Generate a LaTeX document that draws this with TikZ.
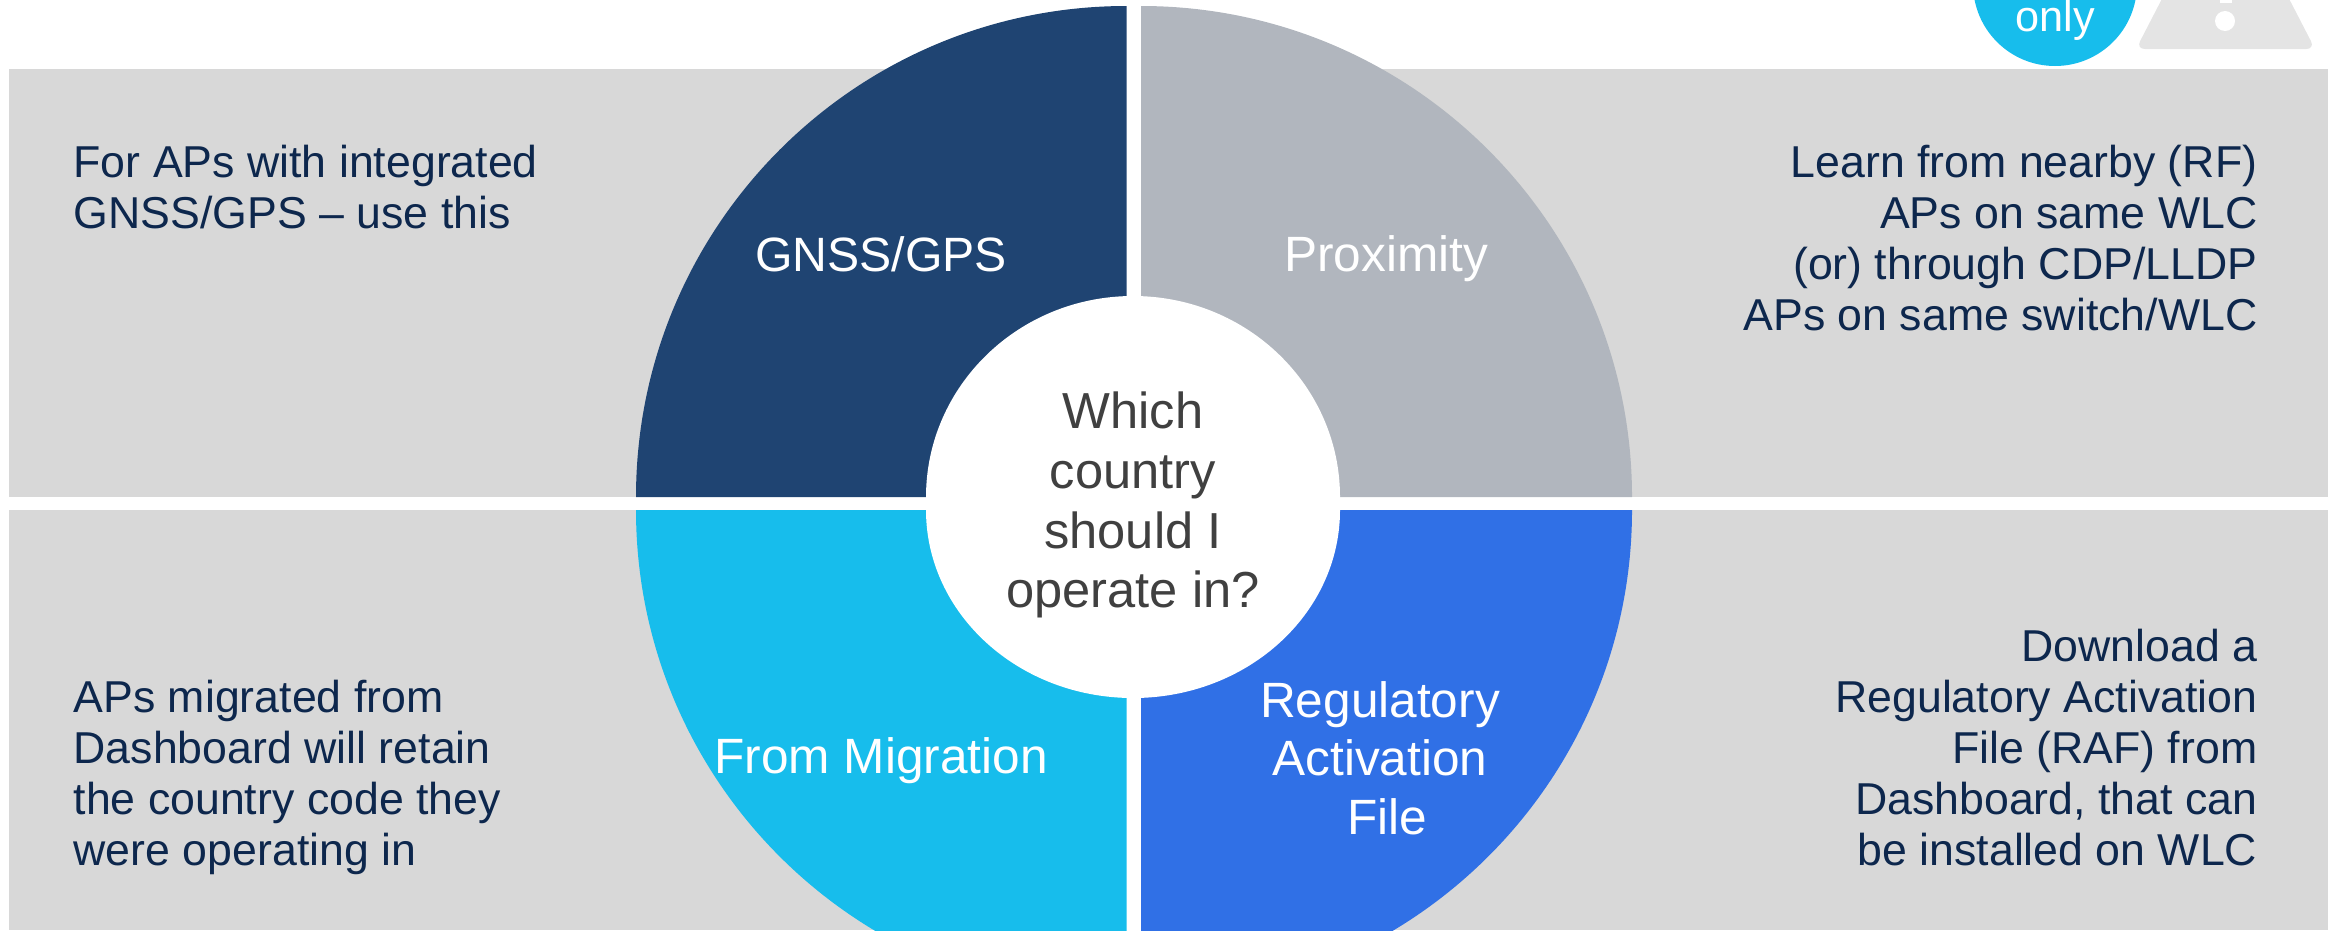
\documentclass[tikz,border=0pt]{standalone}
\usepackage{fontspec}
\setmainfont{Liberation Sans}
\usepackage{tikz}
\definecolor{bandgray}{HTML}{D8D8D8}
\definecolor{navyq}{HTML}{1F4472}
\definecolor{grayq}{HTML}{B1B6BE}
\definecolor{cyanq}{HTML}{17BDEC}
\definecolor{blueq}{HTML}{3070E6}
\definecolor{inktext}{HTML}{0D274D}
\definecolor{midtext}{HTML}{404040}
\definecolor{warngray}{HTML}{E4E4E4}
\tikzset{
  notetext/.style={text=inktext,inner sep=0pt,font=\fontsize{12.7}{14.55}\selectfont},
  lefttext/.style={notetext,anchor=north west,align=left},
  righttext/.style={notetext,anchor=north east,align=right},
  quadtext/.style={text=white,inner sep=0pt,align=center,font=\fontsize{14.1}{16.6}\selectfont},
}
\begin{document}
\begin{tikzpicture}[x=0.01cm,y=-0.01cm]
  \useasboundingbox (0,0) rectangle (2328,930);
  \clip (0,0) rectangle (2328,930);
  % bands
  \fill[bandgray] (9,69) rectangle (2328,497);
  \fill[bandgray] (9,510) rectangle (2328,930);
  \fill[white] (1126,0) rectangle (1141,930);
  % quadrants
  \fill[navyq] (1126.5,497) -- (636,497) arc[start angle=180,end angle=270,x radius=490.5,y radius=491] -- cycle;
  \fill[grayq] (1141,497) -- (1632,497) arc[start angle=0,end angle=-90,x radius=491,y radius=491] -- cycle;
  \fill[cyanq] (1126.5,510) -- (636,510) arc[start angle=180,end angle=90,x radius=490.5,y radius=490] -- cycle;
  \fill[blueq] (1141,510) -- (1632,510) arc[start angle=0,end angle=90,x radius=491,y radius=490] -- cycle;
  % centre
  \fill[white] (926,497) arc[start angle=180,end angle=360,x radius=207,y radius=201] -- cycle;
  \fill[white] (926,510) arc[start angle=180,end angle=0,x radius=207,y radius=188] -- cycle;
  \fill[white] (926,496) rectangle (1340,511);
  \node[text=midtext,inner sep=0pt,align=center,font=\fontsize{14.4}{17}\selectfont] (centre) at (1133,505) {Which\\country\\should I\\operate in?};
  % quadrant names
  \node[quadtext,font=\fontsize{13.7}{16.5}\selectfont] (gnss) at (881,254) {GNSS/GPS};
  \node[quadtext] (prox) at (1386,259) {Proximity};
  \node[quadtext] (migr) at (881,761) {From Migration};
  \node[quadtext] (raf) at (1380,758) {Regulatory\\Activation\\\hspace*{0.15cm}File};
  % notes
  \node[lefttext] (gnssnote) at (73,144) {For APs with integrated\\GNSS/GPS – use this};
  \node[lefttext] (migrnote) at (73,679) {APs migrated from\\Dashboard will retain\\the country code they\\were operating in};
  \node[righttext] (proxnote) at (2258,144) {Learn from nearby (RF)\\APs on same WLC\\(or) through CDP/LLDP\\APs on same switch/WLC};
  \node[righttext] (rafnote) at (2258,628) {Download a\\Regulatory Activation\\File (RAF) from\\Dashboard, that can\\be installed on WLC};
  % top right
  \fill[cyanq] (2055,-16) circle[radius=82];
  \node[text=white,inner sep=0pt,font=\fontsize{12.3}{14}\selectfont,anchor=base] (onlytag) at (2055,31) {only};
  \fill[warngray,rounded corners=2.5pt] (2182,-40) -- (2136,49) -- (2315,49) -- (2269,-40) -- cycle;
  \fill[white] (2220,-10) rectangle (2232,3);
  \fill[white] (2225,21) circle[radius=10];
\end{tikzpicture}
\end{document}
